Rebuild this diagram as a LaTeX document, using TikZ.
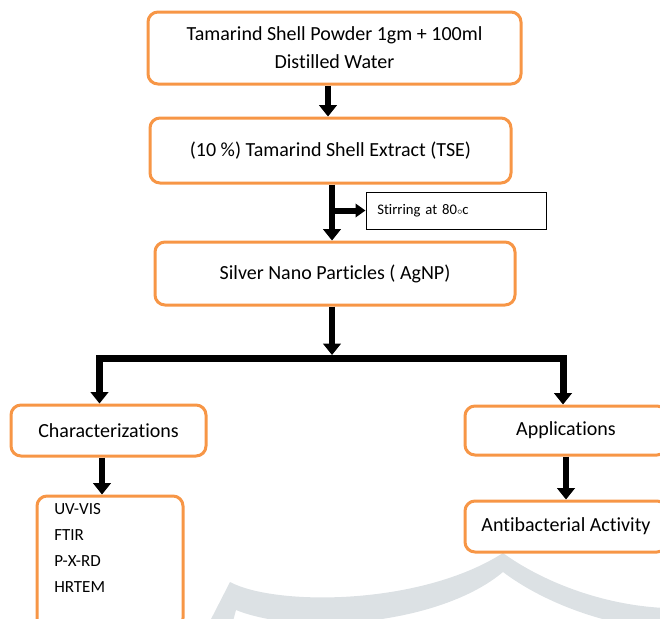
\documentclass[tikz,border=0pt]{standalone}
\usepackage{fontspec}
\setmainfont{Carlito}[Ligatures=NoCommon]
\usetikzlibrary{arrows.meta}
\definecolor{tsorange}{HTML}{F79646}
\definecolor{wmgray}{HTML}{DCE1E4}

\begin{document}
\begin{tikzpicture}[x=0.75pt,y=-0.75pt,
    box/.style={draw=tsorange,line width=2.25pt,rounded corners=7.5pt,fill=white,align=center,inner sep=0pt,font=\fontsize{15}{21}\selectfont},
    arr/.style={draw,line width=5pt,-{Triangle[width=13pt,length=8.5pt]}},
    thinarr/.style={draw,line width=4.5pt,-{Triangle[width=10pt,length=7.5pt]}}]
    \useasboundingbox (0,0) rectangle (660,618);
    % watermark in the background
    \fill[wmgray] (230,582) .. controls (275,606) and (420,606) .. (503,553)
        .. controls (540,580) and (600,605) .. (665,608) -- (665,630)
        .. controls (600,625) and (540,600) .. (503,572)
        .. controls (440,625) and (300,636) .. (236,610) -- (232,625) -- (208,625) -- cycle;

    \node   [box,minimum width=279.75pt,minimum height=54pt]    (1) at (334.5,48) {Tamarind Shell Powder 1gm + 100ml\\Distilled Water};
    \node   [box,minimum width=270.75pt,minimum height=48.75pt] (2) at (330.5,150.5) {(10 \%) Tamarind Shell Extract (TSE)};
    \node   [box,minimum width=270pt,minimum height=47.25pt]    (3) at (335,273.5) {Silver Nano Particles ( AgNP)};
    \node   [draw,line width=0.75pt,minimum width=135pt,minimum height=27.75pt,text width=118pt,inner xsep=8.5pt,align=left,font=\fontsize{11}{13}\selectfont] (4) at (456,210.5) {Stirring at 80{\scriptsize$\circ$}c};
    \node   [box,minimum width=146.25pt,minimum height=38.25pt] (5) at (108.5,430.5) {Characterizations};
    \node   [box,minimum width=109.5pt,minimum height=99pt]     (6) at (110,562) {};
    \node   [align=left,inner sep=0pt,anchor=north west,font=\fontsize{12.75}{19.5}\selectfont] (6t) at (54,503) {UV-VIS\\FTIR\\P-X-RD\\HRTEM};
    \node   [box,minimum width=151.5pt,minimum height=36.75pt] (7) at (566,430.5) {Applications};
    \node   [box,minimum width=151.5pt,minimum height=38.25pt] (8) at (566,526.5) {Antibacterial Activity};

    \coordinate (st) at (332,210.5);
    \coordinate (cm) at (332,355);
    \coordinate (cl) at (99.5,358.5);
    \coordinate (cr) at (563,358.5);

    \path   (1.south -| 328,0) edge [arr] (2.north -| 328,0)
            (2.south -| 332,0) edge [arr] (3.north -| 332,0)
            (st) edge [thinarr] (st -| 4.west)
            (3.south -| cm) edge [arr] (cm);
    \draw   [line width=5.25pt,line join=miter,{Triangle[width=13pt,length=8.5pt]}-{Triangle[width=13pt,length=8.5pt]}]
            (5.north -| cl) -- (cl) -- (cr) -- (7.north -| cr);
    \path   (5.south -| 102,0) edge [arr] (6.north -| 102,0)
            (7.south -| 566,0) edge [arr] (8.north -| 566,0);
\end{tikzpicture}
\end{document}
